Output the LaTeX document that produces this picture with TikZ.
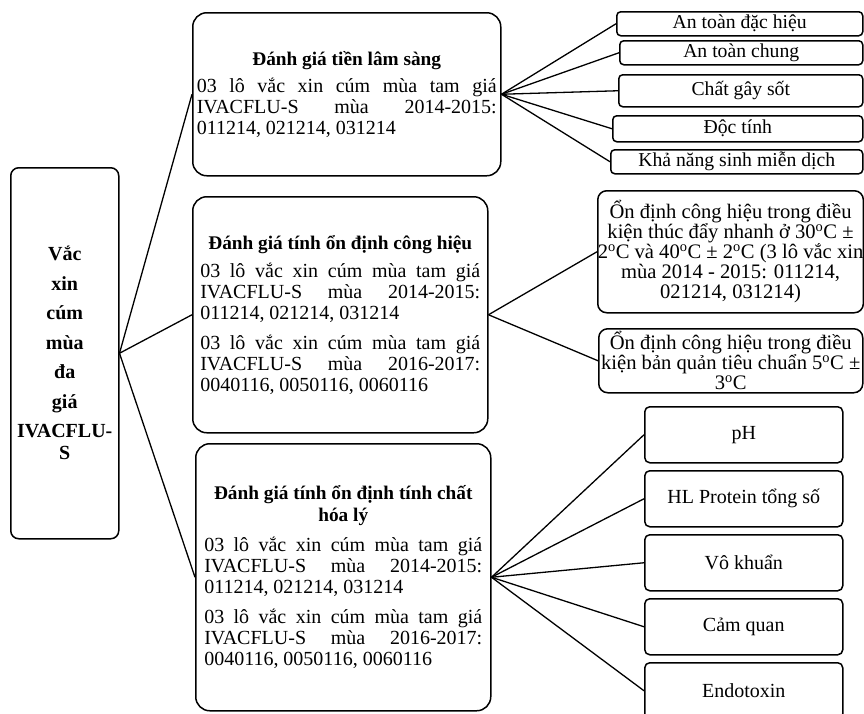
\documentclass[tikz,border=0pt]{standalone}
\usepackage{fontspec}
\setmainfont{Liberation Serif}
\setlength{\parindent}{0pt}
\hyphenpenalty=10000
\exhyphenpenalty=10000
\tolerance=10000
\newcommand\dgo{\textsuperscript{o}}
\newcommand\hd[1]{{\centering\bfseries\fontsize{19.3}{21.5}\selectfont #1\par}}
\newcommand\lotA{03 lô vắc xin cúm mùa tam giá\linebreak IVACFLU-S mùa 2014-2015:\linebreak 011214, 021214, 031214}
\newcommand\lotB{03 lô vắc xin cúm mùa tam giá\linebreak IVACFLU-S mùa 2016-2017:\linebreak 0040116, 0050116, 0060116}
\begin{document}
\begin{tikzpicture}[x=1pt,y=-1pt,
  bx/.style={draw, line width=1.5pt, inner sep=0pt, fill=white, font=\fontsize{20}{21}\selectfont},
  big/.style={bx, rounded corners=14pt, anchor=north west, align=justify},
  sm/.style={bx, rounded corners=4pt, align=center, anchor=north west, font=\fontsize{19.7}{21}\selectfont},
  mid/.style={bx, rounded corners=9pt, align=center, anchor=north west, font=\fontsize{20.6}{20}\selectfont},
  low/.style={sm, rounded corners=5pt, minimum width=198pt, minimum height=56pt, font=\fontsize{20}{21}\selectfont},
  conn/.style={line width=1.3pt}]
\useasboundingbox (0,0) rectangle (864,713);
\clip (0,0) rectangle (864,713);
\fill[white] (0,0) rectangle (864,713);

% root
\node[bx, rounded corners=8pt, anchor=north west, minimum width=108pt, minimum height=371pt,
  align=center, font=\bfseries\fontsize{20}{29.5}\selectfont] (L) at (10,167)
  {Vắc\\xin\\cúm\\mùa\\đa\\giá\\IVACFLU-\\[-7.5pt]S};

% level 1
\node[big, minimum width=308pt, minimum height=163pt, text width=300pt] (b1) at (192,12)
  {\hd{Đánh giá tiền lâm sàng}\vspace{5.7pt}\lotA};
\node[big, minimum width=295pt, minimum height=236pt, text width=280pt] (b2) at (192,196)
  {\hd{Đánh giá tính ổn định công hiệu}\vspace{6.8pt}\lotA\par\vspace{9pt}\lotB};
\node[big, minimum width=295pt, minimum height=267pt, text width=278pt] (b3) at (195,443)
  {\hd{Đánh giá tính ổn định tính chất\\hóa lý}\vspace{9pt}\lotA\par\vspace{9pt}\lotB};

% level 2, top
\node[sm, minimum width=246pt, minimum height=24pt] (t1) at (616,11) {An toàn đặc hiệu};
\node[sm, minimum width=243pt, minimum height=24pt] (t2) at (619,40) {An toàn chung};
\node[sm, minimum width=244pt, minimum height=32pt] (t3) at (618,74) {Chất gây sốt};
\node[sm, minimum width=250pt, minimum height=26pt] (t4) at (612,115) {Độc tính};
\node[sm, minimum width=252pt, minimum height=24pt] (t5) at (610,149) {Khả năng sinh miễn dịch};

% level 2, middle
\node[mid, minimum width=265pt, minimum height=122pt] (mA) at (597,190)
  {Ổn định công hiệu trong điều\\kiện thúc đẩy nhanh ở 30\dgo C ±\\2\dgo C và 40\dgo C ± 2\dgo C (3 lô vắc xin\\mùa 2014 - 2015: 011214,\\021214, 031214)};
\node[mid, minimum width=264pt, minimum height=64pt] (mB) at (598,328)
  {Ổn định công hiệu trong điều\\kiện bản quản tiêu chuẩn 5\dgo C ±\\3\dgo C};

% level 2, bottom
\node[low] (p1) at (644,406) {pH};
\node[low] (p2) at (644,470) {HL Protein tổng số};
\node[low] (p3) at (644,534) {Vô khuẩn};
\node[low] (p4) at (644,598) {Cảm quan};
\node[low] (p5) at (644,662) {Endotoxin};

% connectors
\draw[conn] (L.east) -- (b1.west);
\draw[conn] (L.east) -- (b2.west);
\draw[conn] (L.east) -- (b3.west);
\foreach \t in {t1,t2,t3,t4,t5} \draw[conn] (b1.east) -- (\t.west);
\foreach \t in {mA,mB} \draw[conn] (b2.east) -- (\t.west);
\foreach \t in {p1,p2,p3,p4,p5} \draw[conn] (b3.east) -- (\t.west);
\end{tikzpicture}
\end{document}
